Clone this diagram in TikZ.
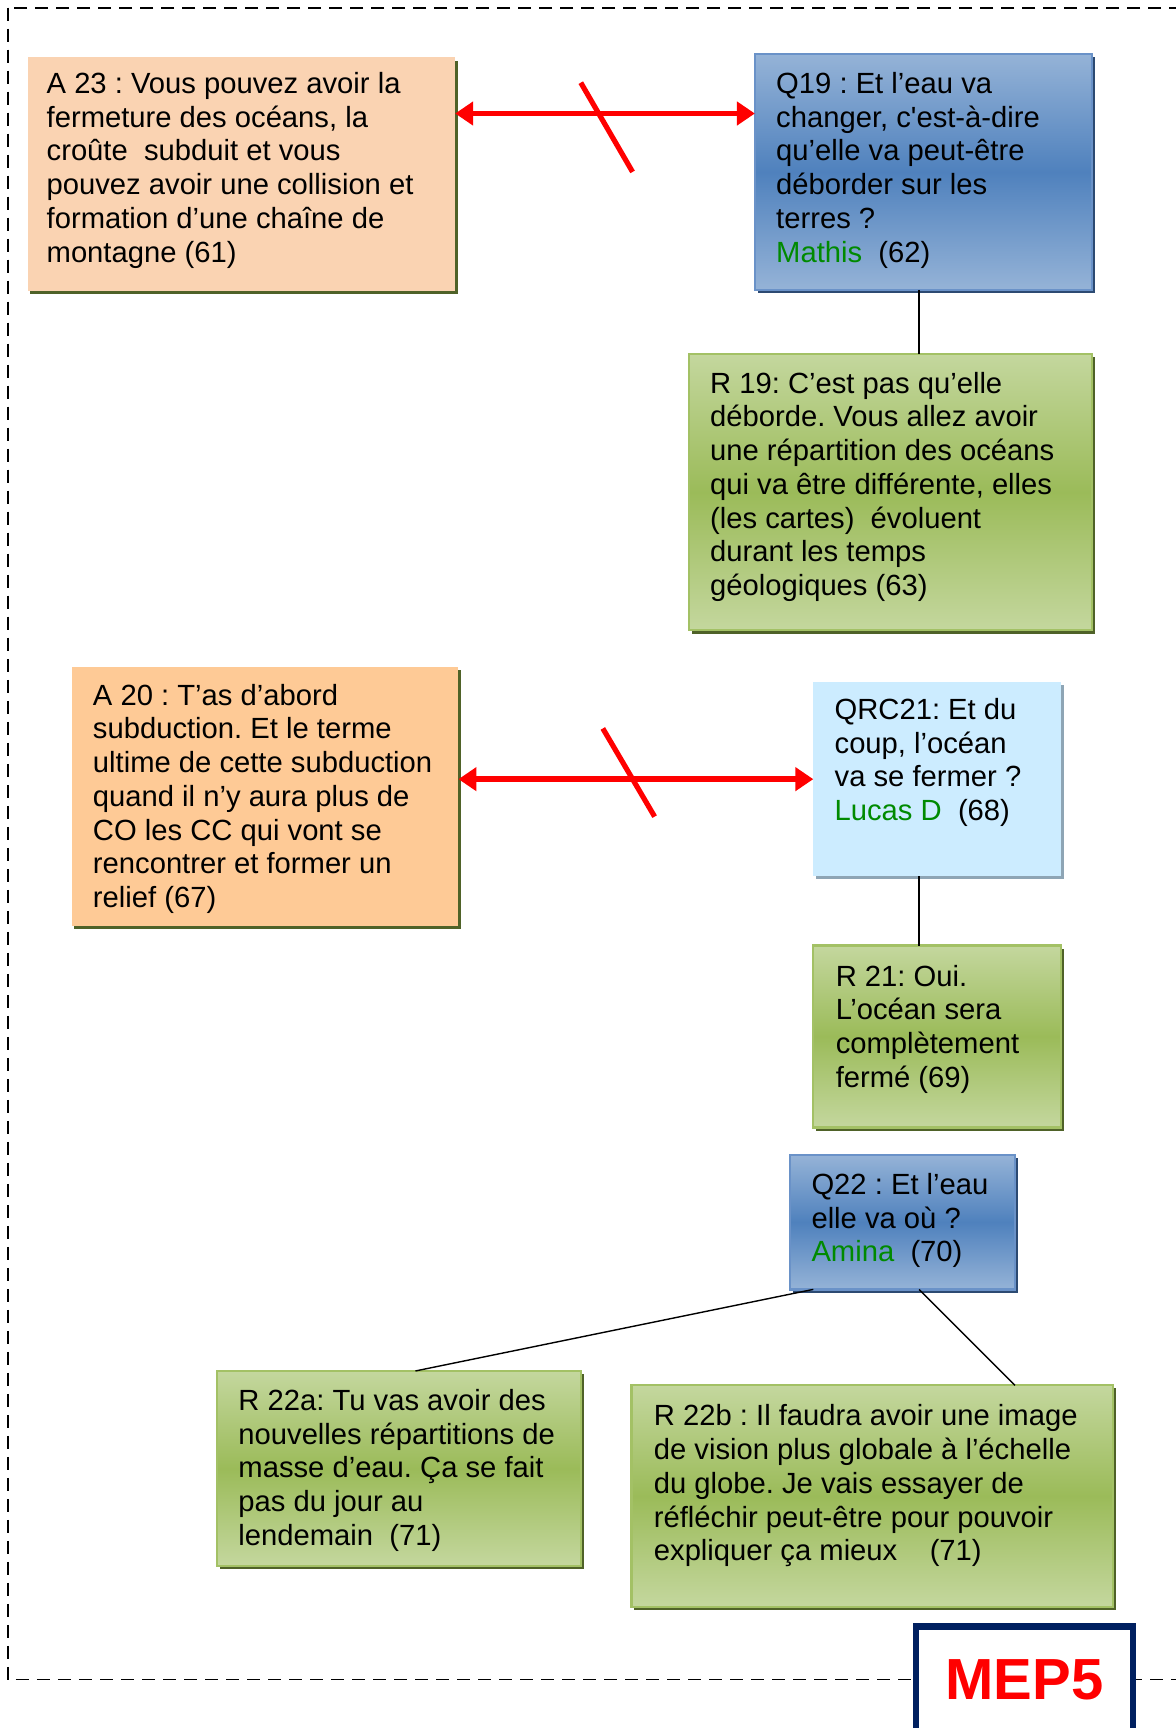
\documentclass[tikz,border=0pt]{standalone}
\usepackage{fontspec}
\newfontfamily\arial{Liberation Sans}
\usetikzlibrary{arrows.meta,shadows,calc}
\frenchspacing
\definecolor{peachA}{HTML}{FAD3B2}
\definecolor{peachB}{HTML}{FECA96}
\definecolor{olivesh}{HTML}{4F6228}
\definecolor{blueTop}{HTML}{95B3D7}
\definecolor{blueMid}{HTML}{4F81BD}
\definecolor{blueBorder}{HTML}{6A92C8}
\definecolor{blueSh}{HTML}{2C4A72}
\definecolor{qrcFill}{HTML}{CCECFF}
\definecolor{qrcSh}{HTML}{8EA5B5}
\definecolor{greenTop}{HTML}{C4D79E}
\definecolor{greenMid}{HTML}{9BBB59}
\definecolor{greenBorder}{HTML}{A3C165}
\definecolor{nameGreen}{HTML}{008A00}
\definecolor{navy}{HTML}{002060}
\tikzset{
  sz/.style 2 args={minimum width=#1*0.551pt, minimum height=#2*0.551pt},
  basebox/.style={rectangle, inner sep=0pt, outer sep=0pt},
  abox/.style={basebox, general shadow={fill=olivesh, shadow xshift=1.4pt, shadow yshift=-1.6pt}},
  qbox/.style={basebox, draw=blueBorder, line width=1.1pt,
    top color=blueTop, bottom color=blueTop, middle color=blueMid,
    general shadow={fill=blueSh, shadow xshift=1.4pt, shadow yshift=-1.6pt}},
  rbox/.style={basebox, draw=greenBorder, line width=1.1pt,
    top color=greenTop, bottom color=greenTop, middle color=greenMid,
    general shadow={fill=olivesh, shadow xshift=1.4pt, shadow yshift=-1.6pt}},
  qrcbox/.style={basebox, fill=qrcFill,
    general shadow={fill=qrcSh, shadow xshift=1.4pt, shadow yshift=-1.6pt}},
  txt/.style={anchor=north west, inner sep=0pt, align=left,
    font=\arial\frenchspacing\fontsize{14.6pt}{16.86pt}\selectfont},
  redarrow/.style={draw=red, line width=2.8pt, {Triangle[length=9pt,width=11.5pt]}-{Triangle[length=9pt,width=11.5pt]}},
  redcross/.style={draw=red, line width=2.6pt},
  link/.style={draw=black, line width=0.7pt},
  frame/.style={draw=black, line width=0.9pt, dash pattern=on 6.5pt off 4pt},
}
\newcommand{\fs}{\rule{0pt}{12pt}}
\newcommand{\nm}[1]{\textcolor{nameGreen}{#1}}
\begin{document}
\begin{tikzpicture}[x=0.551pt, y=-0.551pt]
\useasboundingbox (0,0) rectangle (1067,1568);
\fill[white] (0,0) rectangle (1067,1568);
\draw[frame] (7,7) rectangle (1100,1524);

% boxes
\node[abox, fill=peachA, sz={388}{212}] (a23) at (219,158) {};
\node[qbox, sz={306}{214}] (q19) at (838,156) {};
\node[rbox, sz={366}{251}] (r19) at (808,446.5) {};
\node[abox, fill=peachB, sz={351}{235}] (a20) at (240.5,722.5) {};
\node[qrcbox, sz={225}{176}] (qrc21) at (850.5,707) {};
\node[rbox, sz={225}{165}] (r21) at (850.5,940.5) {};
\node[qbox, sz={204}{122}] (q22) at (819,1109) {};
\node[rbox, sz={330}{177}] (r22a) at (362,1332.5) {};
\node[rbox, sz={437}{201}] (r22b) at (791.5,1357.5) {};

% texts
\node[txt] (a23t) at (42,62.7) {\fs A 23 : Vous pouvez avoir la\\fermeture des océans, la\\croûte\ \ subduit et vous\\pouvez avoir une collision et\\formation d’une chaîne de\\montagne (61)};
\node[txt] (q19t) at (704,62.7) {\fs Q19 : Et l’eau va\\changer, c'est-à-dire\\qu’elle va peut-être\\déborder sur les\\terres ?\\\nm{Mathis}\ \ (62)};
\node[txt] (r19t) at (644,334.7) {\fs R 19: C’est pas qu’elle\\déborde. Vous allez avoir\\une répartition des océans\\qui va être différente, elles\\(les cartes)\ \ évoluent\\durant les temps\\géologiques (63)};
\node[txt] (a20t) at (84,617.7) {\fs A 20 : T’as d’abord\\subduction. Et le terme\\ultime de cette subduction\\quand il n’y aura plus de\\CO les CC qui vont se\\rencontrer et former un\\relief (67)};
\node[txt] (qrc21t) at (757,630.7) {\fs QRC21: Et du\\coup, l’océan\\va se fermer ?\\\nm{Lucas D}\ \ (68)};
\node[txt] (r21t) at (758,872.7) {\fs R 21: Oui.\\L’océan sera\\complètement\\fermé (69)};
\node[txt] (q22t) at (736,1061.7) {\fs Q22 : Et l’eau\\elle va où ?\\\nm{Amina}\ \ (70)};
\node[txt] (r22at) at (216,1257.7) {\fs R 22a: Tu vas avoir des\\nouvelles répartitions de\\masse d’eau. Ça se fait\\pas du jour au\\lendemain\ \ (71)};
\node[txt] (r22bt) at (593,1271.7) {\fs R 22b : Il faudra avoir une image\\de vision plus globale à l’échelle\\du globe. Je vais essayer de\\réfléchir peut-être pour pouvoir\\expliquer ça mieux\ \ \ \ (71)};

% MEP5
\node[basebox, fill=white, draw=navy, line width=3.3pt, sz={197}{96},
  font=\arial\bfseries\fontsize{29pt}{34pt}\selectfont, text=red] (mep5) at (929.5,1524) {MEP5};

% connectors
\coordinate (y1) at (0,103);
\draw[redarrow] (a23.east |- y1) -- (q19.west |- y1);
\coordinate (c1a) at (527,75);
\coordinate (c1b) at (574,156);
\draw[redcross] (c1a) -- (c1b);

\draw[redarrow] (a20.east |- qrc21.west) -- (qrc21.west);
\coordinate (c2a) at (547,661);
\coordinate (c2b) at (594,741);
\draw[redcross] (c2a) -- (c2b);

\coordinate (l1) at ($(q19.south)+(-4,0)$);
\draw[link] (l1) -- (l1 |- r19.north);
\coordinate (l2) at ($(qrc21.south)+(-16.5,0)$);
\draw[link] (l2) -- (l2 |- r21.north);
\coordinate (l3a) at ($(q22.south)+(-81,0)$);
\coordinate (l3b) at ($(r22a.north)+(15,0)$);
\draw[link] (l3a) -- (l3b);
\coordinate (l4a) at ($(q22.south)+(15,0)$);
\coordinate (l4b) at ($(r22b.north)+(129.5,0)$);
\draw[link] (l4a) -- (l4b);
\end{tikzpicture}
\end{document}
